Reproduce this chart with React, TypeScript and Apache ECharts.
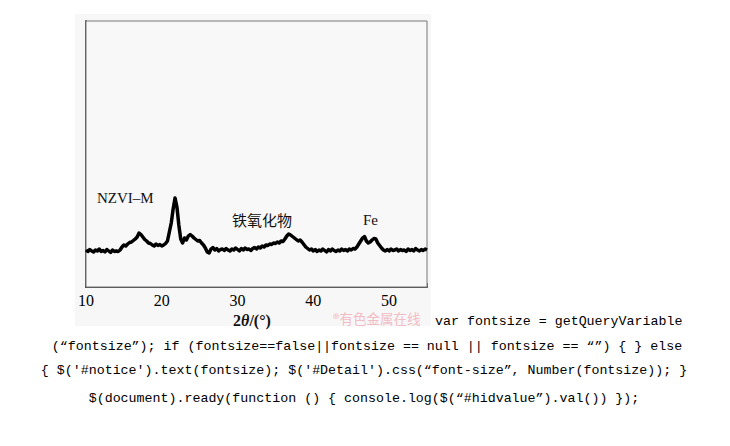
import React, { useEffect, useRef } from "react";
import * as echarts from "echarts";

// 2θ positions (degrees)
const twoTheta: number[] = [
  10, 10.25, 10.5, 10.75, 11, 11.25, 11.5, 11.75, 12, 12.25, 12.5, 12.75,
  13, 13.25, 13.5, 13.75, 14, 14.25, 14.5, 14.75, 15, 15.25, 15.5, 15.75,
  16, 16.25, 16.5, 16.75, 17, 17.25, 17.5, 17.75, 18, 18.25, 18.5, 18.75,
  19, 19.25, 19.5, 19.75, 20, 20.25, 20.5, 20.75, 21, 21.25, 21.5, 21.75,
  22, 22.25, 22.5, 22.75, 23, 23.25, 23.5, 23.75, 24, 24.25, 24.5, 24.75,
  25, 25.25, 25.5, 25.75, 26, 26.25, 26.5, 26.75, 27, 27.25, 27.5, 27.75,
  28, 28.25, 28.5, 28.75, 29, 29.25, 29.5, 29.75, 30, 30.25, 30.5, 30.75,
  31, 31.25, 31.5, 31.75, 32, 32.25, 32.5, 32.75, 33, 33.25, 33.5, 33.75,
  34, 34.25, 34.5, 34.75, 35, 35.25, 35.5, 35.75, 36, 36.25, 36.5, 36.75,
  37, 37.25, 37.5, 37.75, 38, 38.25, 38.5, 38.75, 39, 39.25, 39.5, 39.75,
  40, 40.25, 40.5, 40.75, 41, 41.25, 41.5, 41.75, 42, 42.25, 42.5, 42.75,
  43, 43.25, 43.5, 43.75, 44, 44.25, 44.5, 44.75, 45, 45.25, 45.5, 45.75,
  46, 46.25, 46.5, 46.75, 47, 47.25, 47.5, 47.75, 48, 48.25, 48.5, 48.75,
  49, 49.25, 49.5, 49.75, 50, 50.25, 50.5, 50.75, 51, 51.25, 51.5, 51.75,
  52, 52.25, 52.5, 52.75, 53, 53.25, 53.5, 53.75, 54, 54.25, 54.5, 54.75,
  55,
];

// Diffraction intensity (arbitrary units)
const intensity: number[] = [
  37, 35.5, 37.5, 36, 35, 37, 36, 38, 35.5, 36.5, 35, 37.5,
  36, 34.5, 37, 35.5, 36, 35.5, 37, 40, 42, 41, 43, 44.5,
  45, 46.5, 48, 50, 54, 52.5, 50, 47.5, 46, 44, 43.5, 42,
  41, 43, 41.5, 42.5, 41, 42, 43.5, 46, 55, 64, 78, 89,
  80, 62, 48, 44, 49, 47, 51, 52.5, 51, 49, 47.5, 46,
  46.5, 44, 42, 39, 35, 34, 38, 39.5, 37, 38.5, 36, 37.5,
  38, 36.5, 38.5, 37, 36, 38, 37, 39, 37.5, 36, 38.5, 37,
  39, 37.5, 38, 36.5, 38.5, 39.5, 38, 40, 39, 41, 40, 42,
  41.5, 43, 42.5, 44, 43.5, 45, 44, 46, 45.5, 48, 51, 53,
  52, 50.5, 49, 47.5, 46, 47, 45, 42.5, 40, 38.5, 37, 38,
  36, 37.5, 35.5, 37, 36, 38, 36.5, 35, 37.5, 36, 38, 36.5,
  35.5, 37, 36, 38, 36.5, 37.5, 36, 38, 37, 38.5, 38, 40,
  43, 46, 49, 50.5, 46, 44, 45, 47, 48.5, 48, 44, 41.5,
  39, 37, 36, 37.5, 36, 38, 36.5, 37, 38, 36, 37.5, 36.5,
  37, 35.5, 38, 36.5, 37.5, 36, 38.5, 37, 36, 37.5, 36.5, 38,
  37,
];

const xTicks: number[] = [10, 20, 30, 40, 50];

const codeLines: string[] = [
  "var fontsize = getQueryVariable",
  "(“fontsize”); if (fontsize==false||fontsize == null || fontsize == “”) { } else",
  "{ $('#notice').text(fontsize); $('#Detail').css(“font-size”, Number(fontsize)); }",
  "$(document).ready(function () { console.log($(“#hidvalue”).val()) });",
];

export default function App() {
  const ref = useRef<HTMLDivElement>(null);
  useEffect(() => {
    document.body.style.margin = "0";
    const chart = echarts.init(ref.current!, undefined, { renderer: "svg" });
    const data = twoTheta.map((x, i) => [x, intensity[i]]);
    const serif = "'Liberation Serif', 'DejaVu Serif', serif";
    const mono = "'Liberation Mono', 'DejaVu Sans Mono', monospace";
    chart.setOption({
      animation: false,
      backgroundColor: "#ffffff",
      grid: {
        left: 86,
        right: 303,
        top: 21,
        bottom: 159,
        show: true,
        backgroundColor: "#f8f8f8",
        borderColor: "#777",
        borderWidth: 1,
        z: 1,
      },
      xAxis: {
        type: "value",
        min: 10,
        max: 55,
        interval: 10,
        axisLine: { show: true, onZero: false, lineStyle: { color: "#444", width: 2 } },
        axisTick: { show: true, inside: true, length: 4, lineStyle: { color: "#444", width: 1.5 } },
        axisLabel: {
          show: true,
          margin: 5,
          fontFamily: serif,
          fontSize: 16,
          color: "#000",
          customValues: xTicks,
          formatter: (v: number) => (xTicks.includes(v) ? String(v) : ""),
        },
        splitLine: { show: false },
      },
      yAxis: {
        type: "value",
        min: 0,
        max: 266,
        axisLine: { show: true, lineStyle: { color: "#555", width: 2 } },
        axisTick: { show: false },
        axisLabel: { show: false },
        splitLine: { show: false },
      },
      series: [
        {
          type: "line",
          data,
          showSymbol: false,
          symbol: "none",
          lineStyle: { color: "#000", width: 3.5, join: "round" },
          z: 3,
        },
      ],
      graphic: [
        {
          type: "rect",
          z: -10,
          silent: true,
          shape: { x: 75, y: 14, width: 356, height: 312 },
          style: { fill: "#f7f7f7" },
        },
        {
          type: "text",
          x: 97,
          y: 198,
          z: 10,
          style: { text: "NZVI–M", fontFamily: serif, fontSize: 15, fill: "#111", verticalAlign: "middle" },
        },
        {
          type: "text",
          x: 232,
          y: 219,
          z: 10,
          style: { text: "铁氧化物", fontFamily: "'Noto Sans CJK SC', sans-serif", fontSize: 15, fill: "#111", verticalAlign: "middle" },
        },
        {
          type: "text",
          x: 363,
          y: 220,
          z: 10,
          style: { text: "Fe", fontFamily: serif, fontSize: 15, fill: "#111", verticalAlign: "middle" },
        },
        {
          type: "text",
          x: 252,
          y: 320,
          z: 10,
          style: {
            text: "2{i|θ}/(°)",
            fontFamily: serif,
            fontSize: 16,
            fontWeight: "bold",
            fill: "#111",
            align: "center",
            verticalAlign: "middle",
            rich: { i: { fontStyle: "italic", fontWeight: "bold", fontFamily: serif, fontSize: 16, fill: "#111" } },
          },
        },
        {
          type: "text",
          x: 333,
          y: 318,
          z: 10,
          style: { text: "®有色金属在线", fontFamily: "'Noto Sans CJK SC', sans-serif", fontSize: 13.5, fill: "#f2bcc4", verticalAlign: "middle" },
        },
        {
          type: "text",
          x: 435,
          y: 321,
          z: 10,
          style: { text: codeLines[0], fontFamily: mono, fontSize: 13.3, fill: "#000", verticalAlign: "middle" },
        },
        {
          type: "text",
          x: 367,
          y: 346,
          z: 10,
          style: { text: codeLines[1], fontFamily: mono, fontSize: 13.3, fill: "#000", align: "center", verticalAlign: "middle" },
        },
        {
          type: "text",
          x: 364,
          y: 370,
          z: 10,
          style: { text: codeLines[2], fontFamily: mono, fontSize: 13.3, fill: "#000", align: "center", verticalAlign: "middle" },
        },
        {
          type: "text",
          x: 364,
          y: 398,
          z: 10,
          style: { text: codeLines[3], fontFamily: mono, fontSize: 13.3, fill: "#000", align: "center", verticalAlign: "middle" },
        },
      ],
    });
    return () => chart.dispose();
  }, []);
  return (
    <div
      ref={ref}
      style={{ position: "absolute", left: 0, top: 0, width: 730, height: 446 }}
    />
  );
}
